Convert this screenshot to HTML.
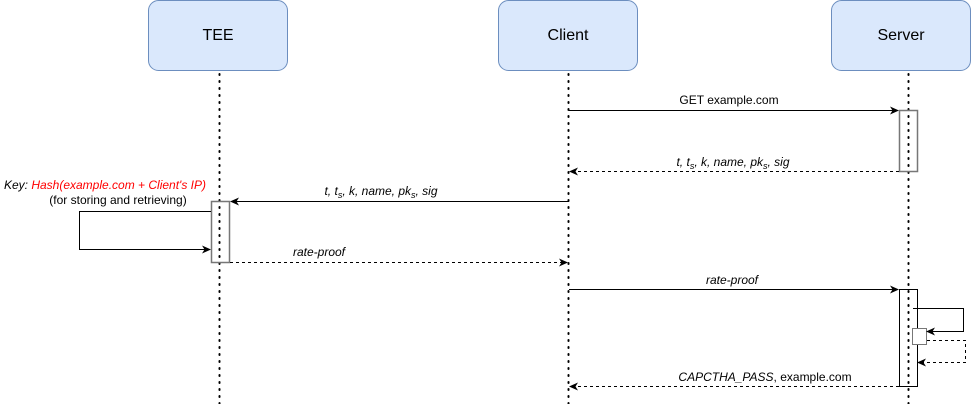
<!DOCTYPE html>
<html><head><meta charset="utf-8"><style>
html,body{margin:0;padding:0;background:#fff;}
svg{display:block;font-family:"Liberation Sans",Helvetica,Arial,sans-serif;}
</style></head><body>
<svg width="976" height="404" viewBox="0 0 976 404" xmlns="http://www.w3.org/2000/svg">
<defs>
<marker id="a" markerWidth="10" markerHeight="10" refX="8" refY="5" orient="auto" markerUnits="userSpaceOnUse">
<path d="M0,1 L9,5 L0,9 L2.5,5 Z" fill="#000"/></marker>
</defs>
<g fill="#dae8fc" stroke="#6c8ebf" stroke-width="1">
<rect x="148.5" y="0.5" width="139" height="70" rx="10"/>
<rect x="498.5" y="0.5" width="139" height="70" rx="10"/>
<rect x="831.5" y="0.5" width="139" height="70" rx="10"/>
</g>
<g font-size="16" text-anchor="middle" fill="#000">
<text x="218" y="40">TEE</text>
<text x="568" y="40">Client</text>
<text x="901" y="40">Server</text>
</g>
<g stroke="#000" stroke-width="2" stroke-dasharray="1,6" stroke-linecap="round">
<line x1="219.5" y1="74" x2="219.5" y2="404"/>
<line x1="568.5" y1="74" x2="568.5" y2="404"/>
<line x1="908.5" y1="74" x2="908.5" y2="404"/>
</g>
<rect x="899.5" y="110.5" width="18" height="61" fill="none" stroke="#777" stroke-width="1.5"/>
<rect x="211.5" y="201.5" width="18" height="61" fill="none" stroke="#777" stroke-width="1.5"/>
<rect x="899.5" y="289.5" width="18" height="97" fill="none" stroke="#000" stroke-width="1"/>
<rect x="912.5" y="328.5" width="14" height="16" fill="#fff" stroke="#777" stroke-width="1"/>
<g stroke="#000" stroke-width="1" fill="none">
<line x1="569" y1="110.5" x2="898" y2="110.5" marker-end="url(#a)"/>
<line x1="899" y1="171.5" x2="570" y2="171.5" stroke-dasharray="3,3" marker-end="url(#a)"/>
<line x1="569" y1="201.5" x2="231" y2="201.5" marker-end="url(#a)"/>
<polyline points="211,211.5 79.5,211.5 79.5,249.5 210,249.5" marker-end="url(#a)"/>
<line x1="230" y1="262.5" x2="567" y2="262.5" stroke-dasharray="3,3" marker-end="url(#a)"/>
<line x1="569" y1="289.5" x2="898" y2="289.5" marker-end="url(#a)"/>
<polyline points="913,308.5 963.5,308.5 963.5,331.5 927,331.5" marker-end="url(#a)"/>
<polyline points="927,340.5 965.5,340.5 965.5,362.5 918,362.5" stroke-dasharray="3,3" marker-end="url(#a)"/>
<line x1="899" y1="386.5" x2="570" y2="386.5" stroke-dasharray="3,3" marker-end="url(#a)"/>
</g>
<g font-size="12" text-anchor="middle" fill="#000">
<text x="729" y="104">GET example.com</text>
<text x="733" y="166" font-style="italic">t, t<tspan font-size="9" dy="3">s</tspan><tspan dy="-3">, k, name, pk</tspan><tspan font-size="9" dy="3">s</tspan><tspan dy="-3">, sig</tspan></text>
<text x="381" y="195" font-style="italic">t, t<tspan font-size="9" dy="3">s</tspan><tspan dy="-3">, k, name, pk</tspan><tspan font-size="9" dy="3">s</tspan><tspan dy="-3">, sig</tspan></text>
<text x="319" y="256" font-style="italic">rate-proof</text>
<text x="732" y="284" font-style="italic">rate-proof</text>
<text x="765" y="381"><tspan font-style="italic">CAPCTHA_PASS</tspan>, example.com</text>
<text x="105" y="189"><tspan font-style="italic">Key: </tspan><tspan font-style="italic" fill="#ff0000">Hash(example.com + Client's IP)</tspan></text>
<text x="118" y="204">(for storing and retrieving)</text>
</g>
</svg>
</body></html>
